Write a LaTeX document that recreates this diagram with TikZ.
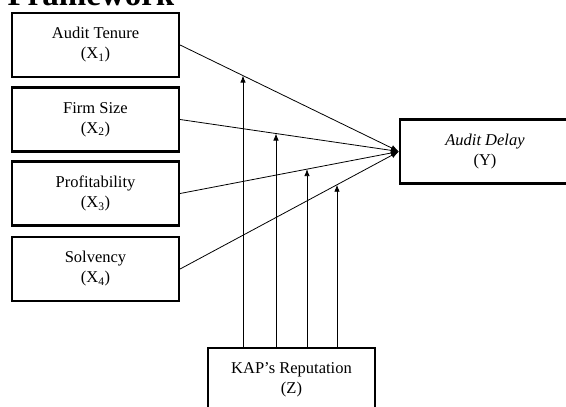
\documentclass[tikz,border=0pt]{standalone}
\usepackage{fontspec}
\setmainfont{Liberation Serif}
\usetikzlibrary{arrows.meta,intersections}

\begin{document}
\begin{tikzpicture}[x=1pt,y=-1pt,
    varbox/.style={draw, line width=2.2pt, minimum width=167pt, minimum height=64pt,
      align=center, font=\fontsize{16.5}{20}\selectfont},
    link/.style={line width=0.8pt, -{Latex[length=8pt,width=6pt]}}]
      \useasboundingbox (0,0) rectangle (566,407);
      \node[anchor=base west, font=\fontsize{33}{36}\selectfont\bfseries] (title) at (4,5) {Framework};
            % independent variables
            \node[varbox] (x1) at (95.5,45) {Audit Tenure\\(X\textsubscript{1})};
            \node[varbox] (x2) at (95.5,119.5) {Firm Size\\(X\textsubscript{2})};
            \node[varbox] (x3) at (95.5,193.5) {Profitability\\(X\textsubscript{3})};
            \node[varbox] (x4) at (95.5,269) {Solvency\\(X\textsubscript{4})};
            % dependent and moderating variable
            \node[varbox, minimum width=170pt] (y) at (485,151.5) {\textit{Audit Delay}\\(Y)};
            \node[varbox] (kap) at (291.5,380) {KAP's Reputation\\(Z)};
            \foreach \i in {1,...,4}{
                \draw[link, name path=l\i] (x\i.east) -- (y.west);
            }
            \foreach \xv/\ln in {243/l1, 276/l2, 307/l3, 337/l4}{
                \path[name path=v] (\xv,0 |- kap.north) -- (\xv,0);
                \draw[line width=0.8pt, -{Latex[length=7pt,width=5.5pt]}, name intersections={of=v and \ln}]
                    (\xv,0 |- kap.north) -- (intersection-1);
            }
        \end{tikzpicture}
\end{document}
